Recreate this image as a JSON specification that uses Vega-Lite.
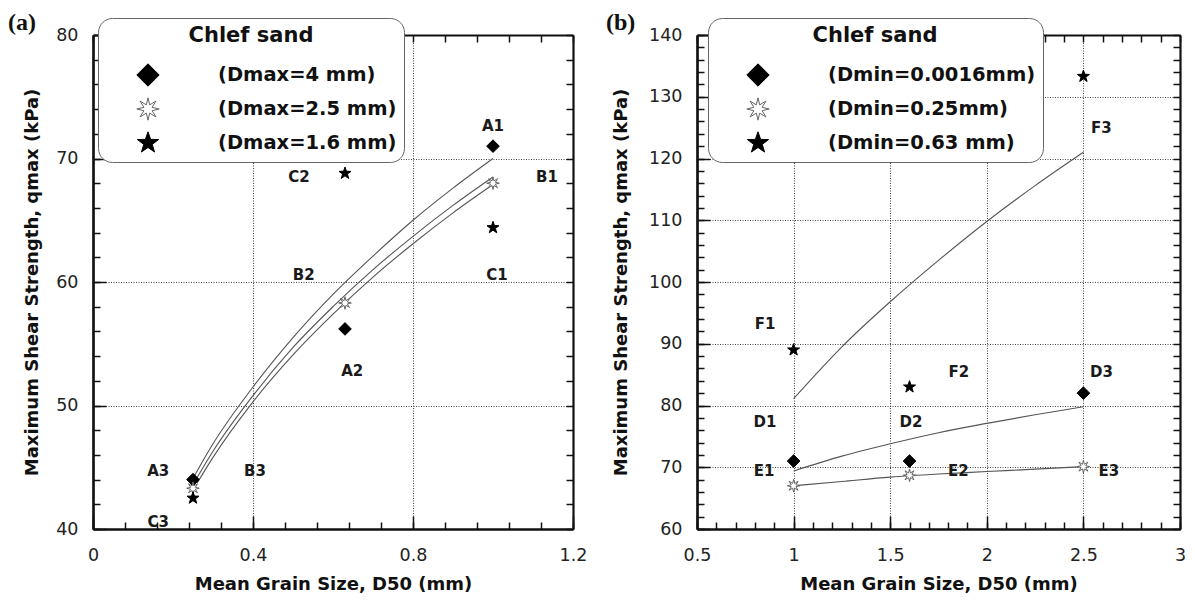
{
  "$schema": "https://vega.github.io/schema/vega-lite/v6.json",
  "background": "white",
  "padding": {"left": 8, "top": 10, "right": 5, "bottom": 2},
  "spacing": 19,
  "datasets": {
    "curvesA": [
      {"curve": "c1", "x": 0.25, "y": 44.1}, {"curve": "c1", "x": 0.3, "y": 46.9}, {"curve": "c1", "x": 0.4, "y": 51.5}, {"curve": "c1", "x": 0.5, "y": 55.5}, {"curve": "c1", "x": 0.6, "y": 59.0}, {"curve": "c1", "x": 0.7, "y": 62.1}, {"curve": "c1", "x": 0.8, "y": 65.0}, {"curve": "c1", "x": 0.9, "y": 67.6}, {"curve": "c1", "x": 1.0, "y": 70.0},
      {"curve": "c2", "x": 0.25, "y": 43.6}, {"curve": "c2", "x": 0.3, "y": 46.3}, {"curve": "c2", "x": 0.4, "y": 50.8}, {"curve": "c2", "x": 0.5, "y": 54.7}, {"curve": "c2", "x": 0.6, "y": 58.0}, {"curve": "c2", "x": 0.7, "y": 61.0}, {"curve": "c2", "x": 0.8, "y": 63.7}, {"curve": "c2", "x": 0.9, "y": 66.2}, {"curve": "c2", "x": 1.0, "y": 68.5},
      {"curve": "c3", "x": 0.26, "y": 43.7}, {"curve": "c3", "x": 0.3, "y": 45.8}, {"curve": "c3", "x": 0.4, "y": 50.3}, {"curve": "c3", "x": 0.5, "y": 54.1}, {"curve": "c3", "x": 0.6, "y": 57.4}, {"curve": "c3", "x": 0.7, "y": 60.4}, {"curve": "c3", "x": 0.8, "y": 63.1}, {"curve": "c3", "x": 0.9, "y": 65.6}, {"curve": "c3", "x": 1.0, "y": 67.9}
    ],
    "pointsA": [
      {"series": "(Dmax=4 mm)", "x": 0.25, "y": 44.0}, {"series": "(Dmax=4 mm)", "x": 0.63, "y": 56.2}, {"series": "(Dmax=4 mm)", "x": 1.0, "y": 71.0},
      {"series": "(Dmax=2.5 mm)", "x": 0.25, "y": 43.3}, {"series": "(Dmax=2.5 mm)", "x": 0.63, "y": 58.3}, {"series": "(Dmax=2.5 mm)", "x": 1.0, "y": 68.0},
      {"series": "(Dmax=1.6 mm)", "x": 0.25, "y": 42.5}, {"series": "(Dmax=1.6 mm)", "x": 0.63, "y": 68.8}, {"series": "(Dmax=1.6 mm)", "x": 1.0, "y": 64.4}
    ],
    "labelsA": [
      {"label": "A1", "x": 1.0, "y": 72.6}, {"label": "B1", "x": 1.135, "y": 68.5}, {"label": "C2", "x": 0.515, "y": 68.5},
      {"label": "B2", "x": 0.527, "y": 60.6}, {"label": "C1", "x": 1.01, "y": 60.6}, {"label": "A2", "x": 0.648, "y": 52.8},
      {"label": "A3", "x": 0.163, "y": 44.7}, {"label": "B3", "x": 0.405, "y": 44.7}, {"label": "C3", "x": 0.163, "y": 40.6}
    ],
    "curvesB": [
      {"curve": "F", "x": 1.0, "y": 81.1}, {"curve": "F", "x": 1.25, "y": 89.5}, {"curve": "F", "x": 1.5, "y": 96.8}, {"curve": "F", "x": 1.75, "y": 103.5}, {"curve": "F", "x": 2.0, "y": 109.8}, {"curve": "F", "x": 2.25, "y": 115.6}, {"curve": "F", "x": 2.5, "y": 121.0},
      {"curve": "D", "x": 1.0, "y": 69.4}, {"curve": "D", "x": 1.25, "y": 71.8}, {"curve": "D", "x": 1.5, "y": 73.8}, {"curve": "D", "x": 1.75, "y": 75.6}, {"curve": "D", "x": 2.0, "y": 77.1}, {"curve": "D", "x": 2.25, "y": 78.5}, {"curve": "D", "x": 2.5, "y": 79.8},
      {"curve": "E", "x": 1.0, "y": 67.0}, {"curve": "E", "x": 1.25, "y": 67.7}, {"curve": "E", "x": 1.5, "y": 68.4}, {"curve": "E", "x": 1.75, "y": 68.9}, {"curve": "E", "x": 2.0, "y": 69.3}, {"curve": "E", "x": 2.25, "y": 69.7}, {"curve": "E", "x": 2.5, "y": 70.1}
    ],
    "pointsB": [
      {"series": "(Dmin=0.0016mm)", "x": 1.0, "y": 71.0}, {"series": "(Dmin=0.0016mm)", "x": 1.6, "y": 71.0}, {"series": "(Dmin=0.0016mm)", "x": 2.5, "y": 82.0},
      {"series": "(Dmin=0.25mm)", "x": 1.0, "y": 67.0}, {"series": "(Dmin=0.25mm)", "x": 1.6, "y": 68.7}, {"series": "(Dmin=0.25mm)", "x": 2.5, "y": 70.1},
      {"series": "(Dmin=0.63 mm)", "x": 1.0, "y": 89.0}, {"series": "(Dmin=0.63 mm)", "x": 1.6, "y": 83.0}, {"series": "(Dmin=0.63 mm)", "x": 2.5, "y": 133.3}
    ],
    "labelsB": [
      {"label": "F3", "x": 2.593, "y": 124.9}, {"label": "F1", "x": 0.852, "y": 93.2}, {"label": "F2", "x": 1.855, "y": 85.5},
      {"label": "D3", "x": 2.593, "y": 85.5}, {"label": "D1", "x": 0.852, "y": 77.3}, {"label": "D2", "x": 1.607, "y": 77.3},
      {"label": "E1", "x": 0.847, "y": 69.4}, {"label": "E2", "x": 1.853, "y": 69.4}, {"label": "E3", "x": 2.632, "y": 69.4}
    ]
  },
  "hconcat": [
    {
      "title": {"text": "(a)", "anchor": "start", "frame": "group", "dx": -85, "font": "Liberation Serif", "fontSize": 24, "fontWeight": "bold", "color": "#111", "offset": -17},
      "width": 480,
      "height": 494,
      "resolve": {"axis": {"x": "independent", "y": "independent"}},
      "layer": [
        {
          "data": {"name": "curvesA"},
          "mark": {"type": "line", "color": "#555", "strokeWidth": 1.1, "interpolate": "monotone"},
          "encoding": {
            "x": {"field": "x", "type": "quantitative", "scale": {"domain": [0, 1.2], "nice": false, "zero": false},
              "axis": {"orient": "bottom", "values": [0, 0.4, 0.8, 1.2], "format": "~g", "tickSize": -13,
                "grid": true, "labelPadding": 30, "title": "Mean Grain Size, D50 (mm)", "titlePadding": 12}},
            "y": {"field": "y", "type": "quantitative", "scale": {"domain": [40, 80], "nice": false, "zero": false},
              "axis": {"orient": "left", "values": [40, 50, 60, 70, 80], "tickSize": -13,
                "grid": true, "labelPadding": 28, "title": "Maximum Shear Strength, qmax (kPa)", "titlePadding": 14}},
            "detail": {"field": "curve"}
          }
        },
        {
          "data": {"name": "pointsA"},
          "mark": {"type": "point", "size": 160, "opacity": 1, "strokeWidth": 1},
          "encoding": {
            "x": {"field": "x", "type": "quantitative",
              "axis": {"orient": "bottom", "values": [0, 0.08, 0.16, 0.24, 0.32, 0.4, 0.48, 0.56, 0.64, 0.72, 0.8, 0.88, 0.96, 1.04, 1.12, 1.2], "labels": false, "grid": false, "title": null, "tickSize": -7}},
            "y": {"field": "y", "type": "quantitative",
              "axis": {"orient": "left", "values": [40, 42, 44, 46, 48, 50, 52, 54, 56, 58, 60, 62, 64, 66, 68, 70, 72, 74, 76, 78, 80], "labels": false, "grid": false, "title": null, "tickSize": -7}},
            "shape": {"field": "series", "type": "nominal", "scale": {"domain": ["(Dmax=4 mm)", "(Dmax=2.5 mm)", "(Dmax=1.6 mm)"], "range": ["diamond", "M0,-1L0.15,-0.37L0.71,-0.71L0.37,-0.15L1,0L0.37,0.15L0.71,0.71L0.15,0.37L0,1L-0.15,0.37L-0.71,0.71L-0.37,0.15L-1,0L-0.37,-0.15L-0.71,-0.71L-0.15,-0.37Z", "M0,-1L0.235,-0.324L0.951,-0.309L0.38,0.124L0.588,0.809L0,0.4L-0.588,0.809L-0.38,0.124L-0.951,-0.309L-0.235,-0.324Z"]},
              "legend": {"orient": "none", "legendX": 5, "legendY": -17, "title": "Chlef sand"}},
            "fill": {"field": "series", "type": "nominal", "scale": {"domain": ["(Dmax=4 mm)", "(Dmax=2.5 mm)", "(Dmax=1.6 mm)"], "range": ["#000000", "#ffffff", "#000000"]},
              "legend": {"orient": "none", "legendX": 5, "legendY": -17, "title": "Chlef sand"}},
            "stroke": {"field": "series", "type": "nominal", "scale": {"domain": ["(Dmax=4 mm)", "(Dmax=2.5 mm)", "(Dmax=1.6 mm)"], "range": ["#000000", "#666666", "#000000"]},
              "legend": {"orient": "none", "legendX": 5, "legendY": -17, "title": "Chlef sand"}}
          }
        },
        {
          "data": {"name": "labelsA"},
          "mark": {"type": "text", "font": "DejaVu Sans", "fontWeight": "bold", "fontSize": 15, "color": "#1a1a1a"},
          "encoding": {
            "x": {"field": "x", "type": "quantitative",
              "axis": {"orient": "top", "values": [0, 0.08, 0.16, 0.24, 0.32, 0.4, 0.48, 0.56, 0.64, 0.72, 0.8, 0.88, 0.96, 1.04, 1.12, 1.2], "labels": false, "grid": false, "title": null, "tickSize": -7}},
            "y": {"field": "y", "type": "quantitative",
              "axis": {"orient": "right", "values": [40, 42, 44, 46, 48, 50, 52, 54, 56, 58, 60, 62, 64, 66, 68, 70, 72, 74, 76, 78, 80], "labels": false, "grid": false, "title": null, "tickSize": -7}},
            "text": {"field": "label"}
          }
        }
      ]
    },
    {
      "title": {"text": "(b)", "anchor": "start", "frame": "group", "dx": -91, "font": "Liberation Serif", "fontSize": 24, "fontWeight": "bold", "color": "#111", "offset": -17},
      "width": 483,
      "height": 494,
      "resolve": {"axis": {"x": "independent", "y": "independent"}},
      "layer": [
        {
          "data": {"name": "curvesB"},
          "mark": {"type": "line", "color": "#555", "strokeWidth": 1.1, "interpolate": "monotone"},
          "encoding": {
            "x": {"field": "x", "type": "quantitative", "scale": {"domain": [0.5, 3], "nice": false, "zero": false},
              "axis": {"orient": "bottom", "values": [0.5, 1, 1.5, 2, 2.5, 3], "format": "~g", "tickSize": -13,
                "grid": true, "labelPadding": 30, "title": "Mean Grain Size, D50 (mm)", "titlePadding": 12}},
            "y": {"field": "y", "type": "quantitative", "scale": {"domain": [60, 140], "nice": false, "zero": false},
              "axis": {"orient": "left", "values": [60, 70, 80, 90, 100, 110, 120, 130, 140], "tickSize": -13,
                "grid": true, "labelPadding": 28, "title": "Maximum Shear Strength, qmax (kPa)", "titlePadding": 18}},
            "detail": {"field": "curve"}
          }
        },
        {
          "data": {"name": "pointsB"},
          "mark": {"type": "point", "size": 160, "opacity": 1, "strokeWidth": 1},
          "encoding": {
            "x": {"field": "x", "type": "quantitative",
              "axis": {"orient": "bottom", "values": [0.5, 0.6, 0.7, 0.8, 0.9, 1, 1.1, 1.2, 1.3, 1.4, 1.5, 1.6, 1.7, 1.8, 1.9, 2, 2.1, 2.2, 2.3, 2.4, 2.5, 2.6, 2.7, 2.8, 2.9, 3], "labels": false, "grid": false, "title": null, "tickSize": -7}},
            "y": {"field": "y", "type": "quantitative",
              "axis": {"orient": "left", "values": [60, 62, 64, 66, 68, 70, 72, 74, 76, 78, 80, 82, 84, 86, 88, 90, 92, 94, 96, 98, 100, 102, 104, 106, 108, 110, 112, 114, 116, 118, 120, 122, 124, 126, 128, 130, 132, 134, 136, 138, 140], "labels": false, "grid": false, "title": null, "tickSize": -7}},
            "shape": {"field": "series", "type": "nominal", "scale": {"domain": ["(Dmin=0.0016mm)", "(Dmin=0.25mm)", "(Dmin=0.63 mm)"], "range": ["diamond", "M0,-1L0.15,-0.37L0.71,-0.71L0.37,-0.15L1,0L0.37,0.15L0.71,0.71L0.15,0.37L0,1L-0.15,0.37L-0.71,0.71L-0.37,0.15L-1,0L-0.37,-0.15L-0.71,-0.71L-0.15,-0.37Z", "M0,-1L0.235,-0.324L0.951,-0.309L0.38,0.124L0.588,0.809L0,0.4L-0.588,0.809L-0.38,0.124L-0.951,-0.309L-0.235,-0.324Z"]},
              "legend": {"orient": "none", "legendX": 11, "legendY": -17, "title": "Chlef sand"}},
            "fill": {"field": "series", "type": "nominal", "scale": {"domain": ["(Dmin=0.0016mm)", "(Dmin=0.25mm)", "(Dmin=0.63 mm)"], "range": ["#000000", "#ffffff", "#000000"]},
              "legend": {"orient": "none", "legendX": 11, "legendY": -17, "title": "Chlef sand"}},
            "stroke": {"field": "series", "type": "nominal", "scale": {"domain": ["(Dmin=0.0016mm)", "(Dmin=0.25mm)", "(Dmin=0.63 mm)"], "range": ["#000000", "#666666", "#000000"]},
              "legend": {"orient": "none", "legendX": 11, "legendY": -17, "title": "Chlef sand"}}
          }
        },
        {
          "data": {"name": "labelsB"},
          "mark": {"type": "text", "font": "DejaVu Sans", "fontWeight": "bold", "fontSize": 15, "color": "#1a1a1a"},
          "encoding": {
            "x": {"field": "x", "type": "quantitative",
              "axis": {"orient": "top", "values": [0.5, 0.6, 0.7, 0.8, 0.9, 1, 1.1, 1.2, 1.3, 1.4, 1.5, 1.6, 1.7, 1.8, 1.9, 2, 2.1, 2.2, 2.3, 2.4, 2.5, 2.6, 2.7, 2.8, 2.9, 3], "labels": false, "grid": false, "title": null, "tickSize": -7}},
            "y": {"field": "y", "type": "quantitative",
              "axis": {"orient": "right", "values": [60, 62, 64, 66, 68, 70, 72, 74, 76, 78, 80, 82, 84, 86, 88, 90, 92, 94, 96, 98, 100, 102, 104, 106, 108, 110, 112, 114, 116, 118, 120, 122, 124, 126, 128, 130, 132, 134, 136, 138, 140], "labels": false, "grid": false, "title": null, "tickSize": -7}},
            "text": {"field": "label"}
          }
        }
      ]
    }
  ],
  "resolve": {
    "scale": {"shape": "independent", "fill": "independent", "stroke": "independent"},
    "legend": {"shape": "independent", "fill": "independent", "stroke": "independent"}
  },
  "config": {
    "view": {"stroke": null},
    "axis": {
      "domainColor": "#111", "domainWidth": 2.2, "tickColor": "#111", "tickWidth": 1.5,
      "labelFont": "DejaVu Sans", "labelFontSize": 17.5, "labelColor": "#222",
      "titleFont": "DejaVu Sans", "titleFontSize": 18, "titleFontWeight": "bold", "titleColor": "#111",
      "gridColor": "#444", "gridDash": [1, 1.5], "gridWidth": 1,
      "labelFlush": false, "labelOverlap": false, "labelBound": false
    },
    "legend": {
      "direction": "vertical",
      "titleAnchor": "middle", "titleAlign": "center", "titleFont": "DejaVu Sans", "titleFontSize": 21, "titleFontWeight": "bold", "titleColor": "#111", "titlePadding": 17,
      "labelFont": "DejaVu Sans", "labelFontSize": 19.5, "labelFontWeight": "bold", "labelColor": "#111", "labelOffset": 58, "labelLimit": 400,
      "symbolSize": 500, "symbolOffset": 31, "symbolStrokeWidth": 1, "rowPadding": 6, "padding": 7,
      "strokeColor": "#666", "fillColor": "white", "cornerRadius": 14
    }
  }
}
